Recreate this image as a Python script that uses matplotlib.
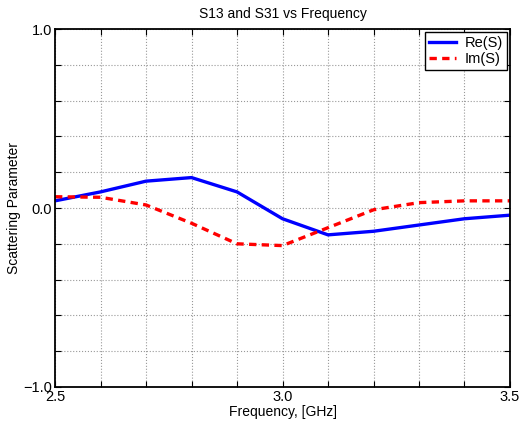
import matplotlib
matplotlib.use("Agg")
import matplotlib.pyplot as plt
import numpy as np

plt.rcParams['font.family'] = ['Liberation Sans', 'DejaVu Sans']

freq = [2.5, 2.6, 2.7, 2.8, 2.9, 3.0, 3.1, 3.2, 3.3, 3.4, 3.5]
re_s = [0.04, 0.09, 0.15, 0.17, 0.09, -0.06, -0.15, -0.13, -0.095, -0.06, -0.04]
im_s = [0.063, 0.06, 0.017, -0.085, -0.20, -0.21, -0.11, -0.01, 0.03, 0.04, 0.04]

xticks = np.arange(2.5, 3.51, 0.1)
yticks = np.arange(-1.0, 1.01, 0.2)
xlabels = {2.5: "2.5", 3.0: "3.0", 3.5: "3.5"}
ylabels = {-1.0: "\u22121.0", 0.0: "0.0", 1.0: "1.0"}

fig = plt.figure(figsize=(5.22, 4.28), dpi=100)
ax = fig.add_axes([0.1054, 0.0958, 0.8716, 0.8364])

ax.plot(freq, re_s, color="#0000ff", lw=2.4, label="Re(S)")
ax.plot(freq, im_s, color="#ff0000", lw=2.4, ls=(0, (2.2, 1.6)), label="Im(S)")

ax.set_xlim(2.5, 3.5)
ax.set_ylim(-1, 1)
ax.set_xticks(xticks)
ax.set_yticks(yticks)
ax.set_xticklabels([xlabels.get(round(v, 1), "") for v in xticks])
ax.set_yticklabels([ylabels.get(round(v, 1), "") for v in yticks])
ax.tick_params(direction="in", top=True, right=True, length=4, width=0.8,
               labelsize=10.5, pad=2)
ax.grid(True, ls=":", color="#999999", lw=0.8)
for s in ax.spines.values():
    s.set_linewidth(1.3)

ax.set_title("S13 and S31 vs Frequency", fontsize=10, pad=8)
ax.set_xlabel("Frequency, [GHz]", fontsize=10, labelpad=1)
ax.set_ylabel("Scattering Parameter", fontsize=10, labelpad=2)

leg = ax.legend(loc="upper right", fontsize=10.5, fancybox=False, framealpha=1,
                edgecolor="black", borderaxespad=0.2, handlelength=1.8,
                handletextpad=0.6, borderpad=0.3, labelspacing=0.1)
leg.get_frame().set_linewidth(1.0)

fig.savefig("out.png", dpi=100)
